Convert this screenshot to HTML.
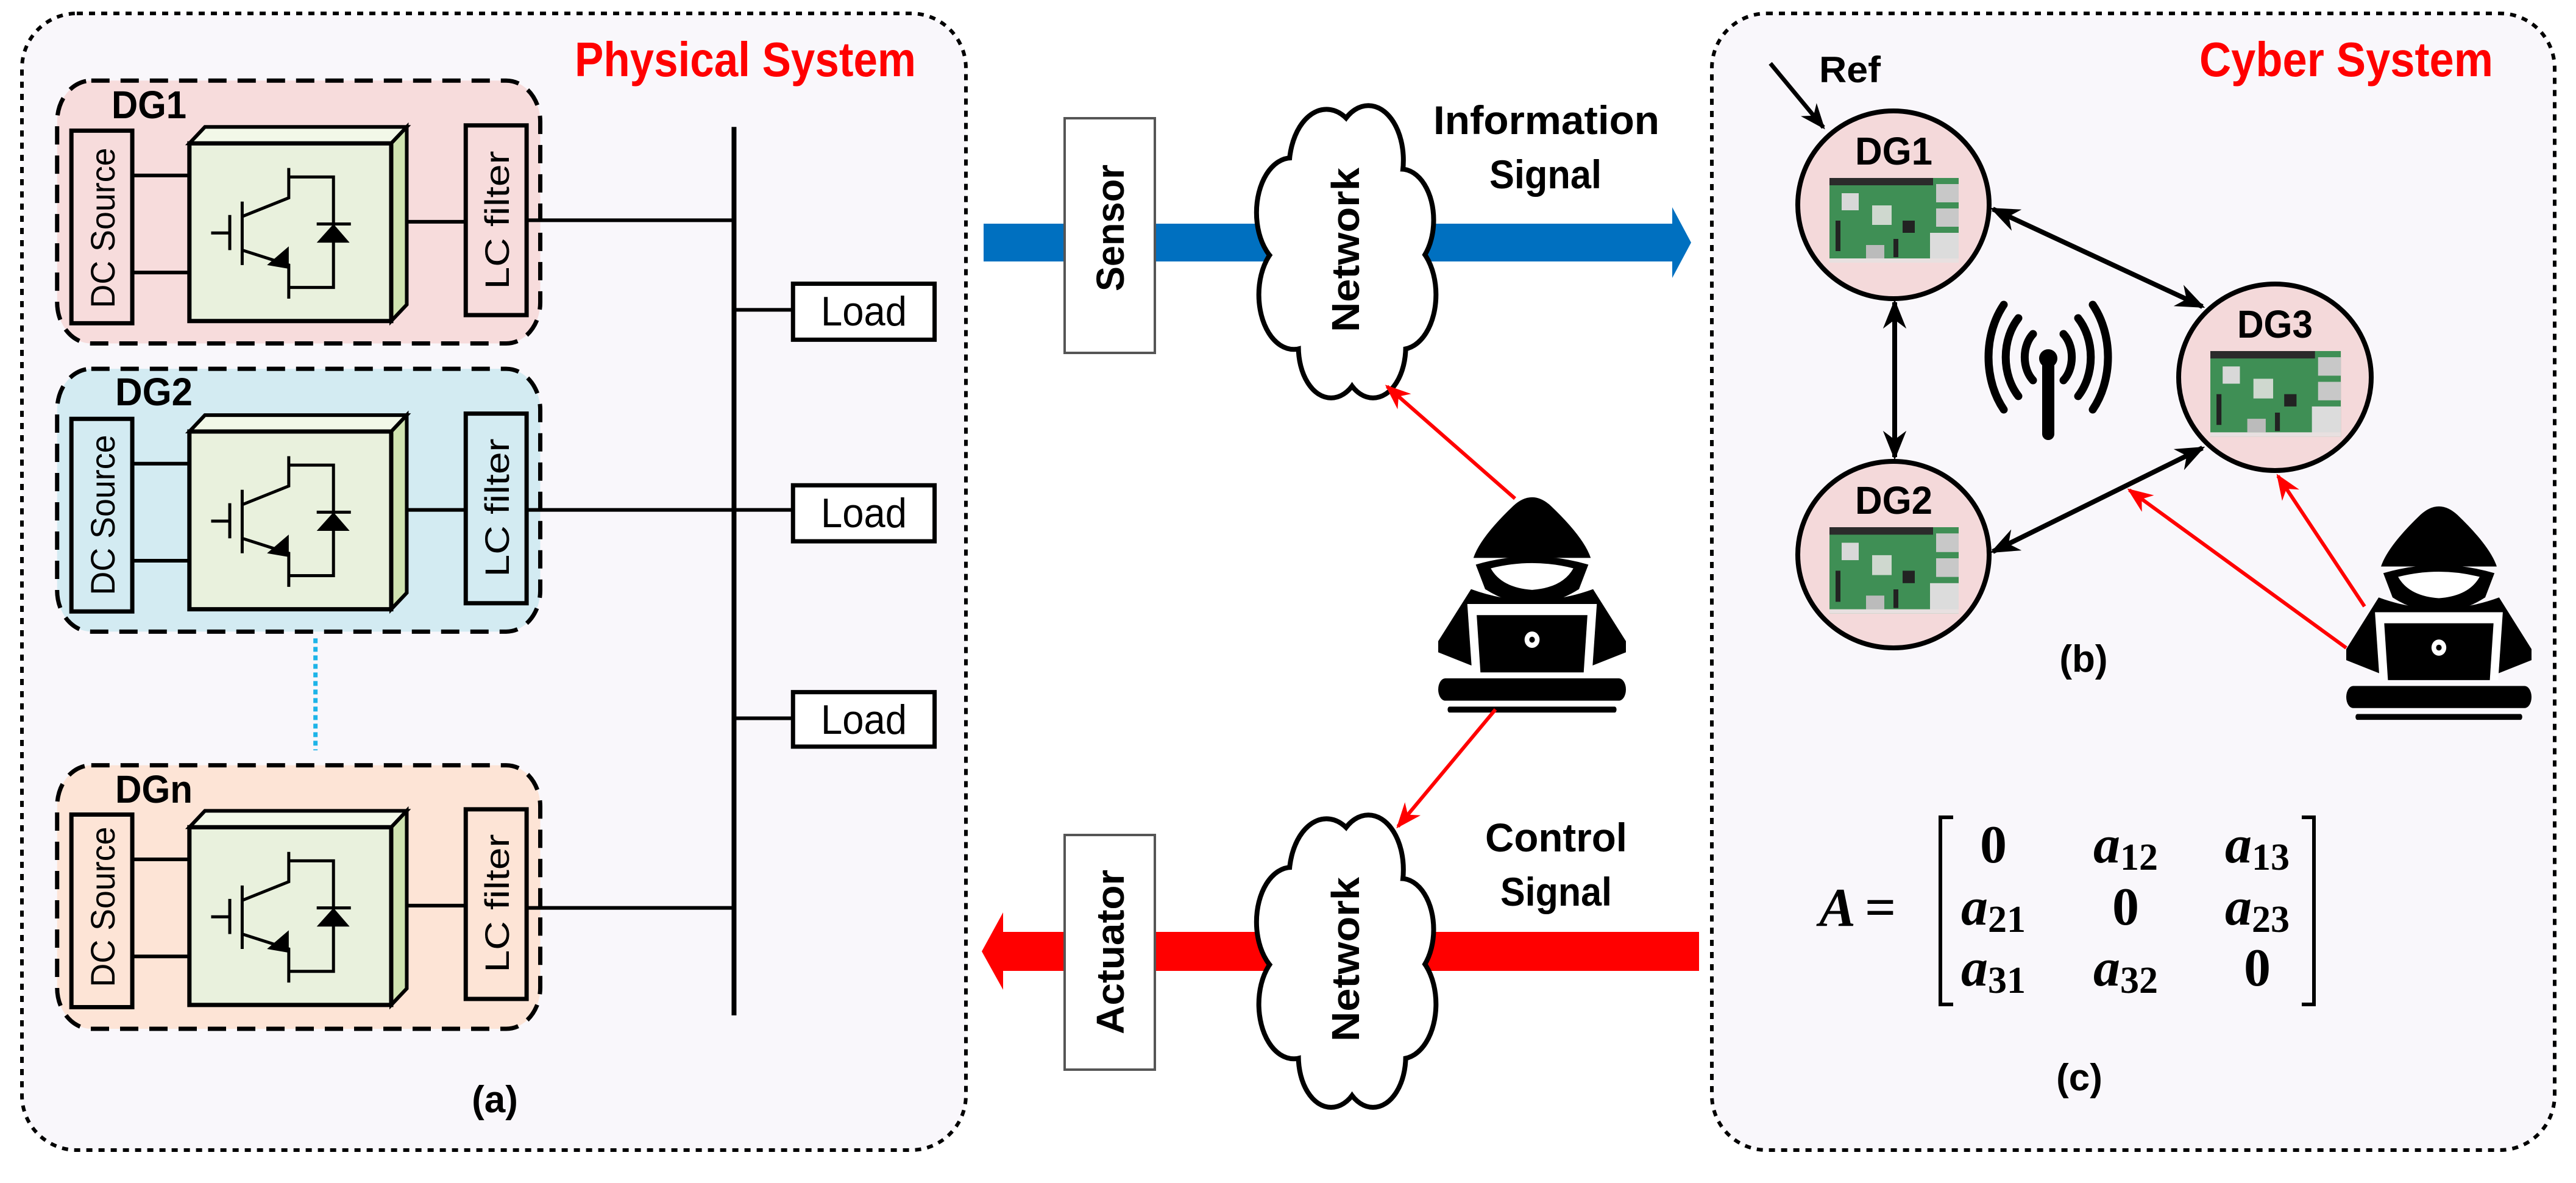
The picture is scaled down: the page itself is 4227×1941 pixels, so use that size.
<!DOCTYPE html>
<html><head><meta charset="utf-8"><style>
html,body{margin:0;padding:0;background:#fff;}
svg{display:block;}
text{font-family:"Liberation Sans",sans-serif;font-weight:bold;}
</style></head><body>
<svg width="4227" height="1941" viewBox="0 0 4227 1941" xmlns="http://www.w3.org/2000/svg">
<defs>
<marker id="ar" viewBox="0 0 10 10" refX="9" refY="5" markerWidth="7" markerHeight="7" orient="auto" markerUnits="strokeWidth"><path d="M0,1 L10,5 L0,9 L3,5 Z" fill="#f00"/></marker>
<marker id="ak" viewBox="0 0 10 10" refX="9" refY="5" markerWidth="6" markerHeight="6" orient="auto-start-reverse" markerUnits="strokeWidth"><path d="M0,1 L10,5 L0,9 L3,5 Z" fill="#000"/></marker>
<g id="unit">
 <rect x="115" y="175" width="98" height="258" fill="none" stroke="#000" stroke-width="7" vector-effect="non-scaling-stroke"/>
 <line x1="213" y1="235" x2="305" y2="235" stroke="#000" stroke-width="6" vector-effect="non-scaling-stroke"/>
 <line x1="213" y1="365" x2="305" y2="365" stroke="#000" stroke-width="6" vector-effect="non-scaling-stroke"/>
 <polygon points="305,192 330,170 655,170 630,192" fill="#f2f8e8" stroke="#000" stroke-width="6" vector-effect="non-scaling-stroke"/>
 <polygon points="630,192 655,170 655,408 630,430" fill="#cfe3b0" stroke="#000" stroke-width="6" vector-effect="non-scaling-stroke"/>
 <rect x="305" y="192" width="325" height="238" fill="#e9f1dd" stroke="#000" stroke-width="7" vector-effect="non-scaling-stroke"/>
 <path d="M340,312 H370 M370,288 V335 M390,270 V355 M390,290 L465,265 V225 M465,237 H537 V385 H465 M390,335 L465,355 V400 M510,300 H565" fill="none" stroke="#000" stroke-width="5" vector-effect="non-scaling-stroke"/>
 <polygon points="430,355 465,330 465,360" fill="#000"/>
 <polygon points="510,325 537,300 563,325" fill="#000"/>
 <line x1="655" y1="297" x2="750" y2="297" stroke="#000" stroke-width="6" vector-effect="non-scaling-stroke"/>
 <rect x="750" y="168" width="98" height="254" fill="none" stroke="#000" stroke-width="7" vector-effect="non-scaling-stroke"/>
</g>
<g id="cloud">
 <g fill="#000" stroke="#000" stroke-width="16" vector-effect="non-scaling-stroke">
  <ellipse cx="150" cy="90" rx="75" ry="75" vector-effect="non-scaling-stroke"/><ellipse cx="240" cy="80" rx="70" ry="70" vector-effect="non-scaling-stroke"/>
  <ellipse cx="310" cy="160" rx="65" ry="65" vector-effect="non-scaling-stroke"/><ellipse cx="310" cy="260" rx="70" ry="70" vector-effect="non-scaling-stroke"/>
  <ellipse cx="250" cy="330" rx="65" ry="65" vector-effect="non-scaling-stroke"/><ellipse cx="160" cy="330" rx="65" ry="65" vector-effect="non-scaling-stroke"/>
  <ellipse cx="80" cy="260" rx="70" ry="70" vector-effect="non-scaling-stroke"/><ellipse cx="75" cy="150" rx="70" ry="70" vector-effect="non-scaling-stroke"/>
 </g>
 <g fill="#fff">
  <circle cx="150" cy="90" r="75"/><circle cx="240" cy="80" r="70"/><circle cx="310" cy="160" r="65"/><circle cx="310" cy="260" r="70"/>
  <circle cx="250" cy="330" r="65"/><circle cx="160" cy="330" r="65"/><circle cx="80" cy="260" r="70"/><circle cx="75" cy="150" r="70"/>
  <circle cx="190" cy="210" r="140"/>
 </g>
</g>
<g id="hacker">
 <path d="M75,88 Q90,60 160,18 Q200,-5 240,18 Q310,60 325,88 Z" fill="#000"/>
 <path d="M80,97 Q200,75 320,97 L300,130 Q200,170 100,130 Z" fill="#000"/>
 <path d="M112,102 Q200,88 288,102 Q265,128 200,131 Q135,128 112,102 Z" fill="#fff"/>
 <path d="M0,200 L70,130 Q200,160 330,130 L400,200 L400,215 L300,240 L100,240 L0,215 Z" fill="#000"/>
 <path d="M62,150 L338,150 L328,242 L72,242 Z" fill="#fff"/>
 <path d="M82,165 L318,165 L310,242 L90,242 Z" fill="#000"/>
 <ellipse cx="200" cy="198" rx="16" ry="11" fill="#fff"/><ellipse cx="200" cy="198" rx="6" ry="4" fill="#000"/>
 <rect x="0" y="250" width="400" height="30" rx="15" fill="#000"/>
 <rect x="20" y="288" width="360" height="8" rx="4" fill="#000"/>
</g>
<g id="pi">
 <rect x="0" y="0" width="212" height="139" fill="#3f8f55"/>
 <rect x="0" y="0" width="170" height="12" fill="#2b2b2b"/>
 <rect x="175" y="10" width="37" height="30" fill="#c8c8c8"/>
 <rect x="175" y="50" width="37" height="30" fill="#c8c8c8"/>
 <rect x="165" y="90" width="47" height="45" fill="#dcdcdc"/>
 <rect x="20" y="25" width="28" height="28" fill="#d8d8d8"/>
 <rect x="70" y="45" width="32" height="32" fill="#cfd8cf"/>
 <rect x="120" y="70" width="20" height="20" fill="#222"/>
 <rect x="60" y="110" width="30" height="22" fill="#bbb"/>
 <rect x="10" y="70" width="8" height="50" fill="#222"/>
 <rect x="105" y="100" width="8" height="30" fill="#222"/>
 <rect x="0" y="132" width="212" height="7" fill="#e8e0e0"/>
</g>
</defs>

<rect x="36" y="22" width="1549" height="1865" rx="90" fill="#f9f7fb" stroke="#000" stroke-width="6" stroke-dasharray="10,10"/>
<rect x="2809" y="22" width="1383" height="1865" rx="90" fill="#f9f7fb" stroke="#000" stroke-width="6" stroke-dasharray="10,10"/>

<g transform="scale(1.019 1.225)">
 <rect x="92" y="108" width="778" height="352" rx="55" fill="#f7dcdc" stroke="#000" stroke-width="7" stroke-dasharray="30,18" vector-effect="non-scaling-stroke"/>
 <rect x="92" y="494" width="778" height="352" rx="55" fill="#d3ebf2" stroke="#000" stroke-width="7" stroke-dasharray="30,18" vector-effect="non-scaling-stroke"/>
 <rect x="92" y="1025" width="778" height="353" rx="55" fill="#fde4d6" stroke="#000" stroke-width="7" stroke-dasharray="30,18" vector-effect="non-scaling-stroke"/>
 <use href="#unit"/>
 <use href="#unit" transform="translate(0 386)"/>
 <use href="#unit" transform="translate(0 916)"/>
 <line x1="508" y1="855" x2="508" y2="1005" stroke="#1eb4e8" stroke-width="7" stroke-dasharray="8,6" vector-effect="non-scaling-stroke"/>
 <g stroke="#000" stroke-width="6" vector-effect="non-scaling-stroke">
  <line x1="1182" y1="170" x2="1182" y2="1360" stroke-width="8" vector-effect="non-scaling-stroke"/>
  <line x1="848" y1="295" x2="1182" y2="295" vector-effect="non-scaling-stroke"/>
  <line x1="848" y1="683" x2="1277" y2="683" vector-effect="non-scaling-stroke"/>
  <line x1="848" y1="1216" x2="1185" y2="1216" vector-effect="non-scaling-stroke"/>
  <line x1="1182" y1="415" x2="1277" y2="415" vector-effect="non-scaling-stroke"/>
  <line x1="1182" y1="962" x2="1277" y2="962" vector-effect="non-scaling-stroke"/>
 </g>
 <g fill="#fff" stroke="#000" stroke-width="7">
  <rect x="1277" y="380" width="228" height="75" vector-effect="non-scaling-stroke"/>
  <rect x="1277" y="650" width="228" height="75" vector-effect="non-scaling-stroke"/>
  <rect x="1277" y="927" width="228" height="73" vector-effect="non-scaling-stroke"/>
 </g>
</g>
<text x="943" y="125" font-size="80" fill="#f00" textLength="560" lengthAdjust="spacingAndGlyphs">Physical System</text>
<text x="183" y="194" font-size="64" textLength="123" lengthAdjust="spacingAndGlyphs">DG1</text>
<text x="189" y="665" font-size="64" textLength="127" lengthAdjust="spacingAndGlyphs">DG2</text>
<text x="189" y="1317" font-size="64" textLength="127" lengthAdjust="spacingAndGlyphs">DGn</text>
<g font-size="56">
 <text transform="translate(188 374) rotate(-90)" text-anchor="middle" textLength="263" lengthAdjust="spacingAndGlyphs" style="font-weight:normal">DC Source</text>
 <text transform="translate(188 845) rotate(-90)" text-anchor="middle" textLength="263" lengthAdjust="spacingAndGlyphs" style="font-weight:normal">DC Source</text>
 <text transform="translate(188 1488) rotate(-90)" text-anchor="middle" textLength="263" lengthAdjust="spacingAndGlyphs" style="font-weight:normal">DC Source</text>
 <text transform="translate(835 361) rotate(-90)" text-anchor="middle" textLength="227" lengthAdjust="spacingAndGlyphs" style="font-weight:normal">LC filter</text>
 <text transform="translate(835 833) rotate(-90)" text-anchor="middle" textLength="227" lengthAdjust="spacingAndGlyphs" style="font-weight:normal">LC filter</text>
 <text transform="translate(835 1482) rotate(-90)" text-anchor="middle" textLength="227" lengthAdjust="spacingAndGlyphs" style="font-weight:normal">LC filter</text>
</g>
<g font-size="68">
 <text x="1347" y="534" textLength="141" lengthAdjust="spacingAndGlyphs" style="font-weight:normal">Load</text>
 <text x="1347" y="865" textLength="141" lengthAdjust="spacingAndGlyphs" style="font-weight:normal">Load</text>
 <text x="1347" y="1204" textLength="141" lengthAdjust="spacingAndGlyphs" style="font-weight:normal">Load</text>
</g>
<text x="812" y="1825" font-size="62" text-anchor="middle">(a)</text>

<polygon points="1614,367 2744,367 2744,340 2775,398 2744,456 2744,429 1614,429" fill="#0070c0"/>
<polygon points="2788,1529 1646,1529 1646,1497 1611,1561 1646,1624 1646,1593 2788,1593" fill="#f00"/>
<rect x="1747" y="194" width="148" height="385" fill="#fff" stroke="#555" stroke-width="4"/>
<rect x="1747" y="1370" width="148" height="385" fill="#fff" stroke="#555" stroke-width="4"/>
<text transform="translate(1844 374) rotate(-90)" font-size="64" text-anchor="middle" textLength="208" lengthAdjust="spacingAndGlyphs">Sensor</text>
<text transform="translate(1844 1562) rotate(-90)" font-size="64" text-anchor="middle" textLength="270" lengthAdjust="spacingAndGlyphs">Actuator</text>
<use href="#cloud" transform="translate(2062 165) scale(0.764 1.225)"/>
<use href="#cloud" transform="translate(2062 1329) scale(0.764 1.225)"/>
<text transform="translate(2230 410) rotate(-90)" font-size="64" text-anchor="middle" textLength="270" lengthAdjust="spacingAndGlyphs">Network</text>
<text transform="translate(2230 1574) rotate(-90)" font-size="64" text-anchor="middle" textLength="270" lengthAdjust="spacingAndGlyphs">Network</text>
<text x="2352" y="220" font-size="66" textLength="371" lengthAdjust="spacingAndGlyphs">Information</text>
<text x="2444" y="309" font-size="66" textLength="184" lengthAdjust="spacingAndGlyphs">Signal</text>
<text x="2437" y="1397" font-size="66" textLength="233" lengthAdjust="spacingAndGlyphs">Control</text>
<text x="2462" y="1486" font-size="66" textLength="183" lengthAdjust="spacingAndGlyphs">Signal</text>
<use href="#hacker" transform="translate(2360 808) scale(0.77 1.22)"/>
<line x1="2486" y1="818" x2="2276" y2="634" stroke="#f00" stroke-width="6" marker-end="url(#ar)"/>
<line x1="2454" y1="1164" x2="2294" y2="1356" stroke="#f00" stroke-width="6" marker-end="url(#ar)"/>

<text x="3609" y="125" font-size="80" fill="#f00" textLength="482" lengthAdjust="spacingAndGlyphs">Cyber System</text>
<text x="2985" y="135" font-size="60" textLength="101" lengthAdjust="spacingAndGlyphs">Ref</text>
<line x1="2905" y1="104" x2="2992" y2="209" stroke="#000" stroke-width="7" marker-end="url(#ak)"/>
<g fill="#f4d9da" stroke="#000" stroke-width="8">
 <ellipse cx="3107" cy="336" rx="157" ry="154"/>
 <ellipse cx="3733" cy="619" rx="158" ry="153"/>
 <ellipse cx="3107" cy="910" rx="157" ry="153"/>
</g>
<text x="3044" y="270" font-size="64" textLength="127" lengthAdjust="spacingAndGlyphs">DG1</text>
<text x="3671" y="554" font-size="64" textLength="124" lengthAdjust="spacingAndGlyphs">DG3</text>
<text x="3044" y="843" font-size="64" textLength="127" lengthAdjust="spacingAndGlyphs">DG2</text>
<use href="#pi" transform="translate(3002 292)"/>
<use href="#pi" transform="translate(3627 576) scale(1.01 1.01)"/>
<use href="#pi" transform="translate(3002 865) scale(1 1.02)"/>
<g stroke="#000" stroke-width="8">
 <line x1="3270" y1="343" x2="3614" y2="503" marker-start="url(#ak)" marker-end="url(#ak)"/>
 <line x1="3109" y1="496" x2="3109" y2="750" marker-start="url(#ak)" marker-end="url(#ak)"/>
 <line x1="3614" y1="735" x2="3270" y2="905" marker-start="url(#ak)" marker-end="url(#ak)"/>
</g>
<g fill="none" stroke="#000" stroke-width="13" stroke-linecap="round">
 <path d="M3336,548 A35,48 0 0 0 3336,624"/><path d="M3386,548 A35,48 0 0 1 3386,624"/>
 <path d="M3312,522 A70,90 0 0 0 3312,650"/><path d="M3410,522 A70,90 0 0 1 3410,650"/>
 <path d="M3288,500 A100,130 0 0 0 3288,672"/><path d="M3434,500 A100,130 0 0 1 3434,672"/>
 <line x1="3361" y1="590" x2="3361" y2="712" stroke-width="20"/>
</g>
<circle cx="3361" cy="588" r="15" fill="#000"/>
<use href="#hacker" transform="translate(3850 823) scale(0.76 1.21)"/>
<line x1="3880" y1="995" x2="3738" y2="781" stroke="#f00" stroke-width="6" marker-end="url(#ar)"/>
<line x1="3850" y1="1063" x2="3494" y2="804" stroke="#f00" stroke-width="6" marker-end="url(#ar)"/>
<text x="3419" y="1102" font-size="62" text-anchor="middle">(b)</text>
<text x="2985" y="1519" font-size="90" font-style="italic" style="font-family:'Liberation Serif',serif">A</text>
<text x="3060" y="1519" font-size="90" style="font-family:'Liberation Serif',serif">=</text>
<path d="M3205,1341 H3184 V1648 H3205" fill="none" stroke="#000" stroke-width="6"/>
<path d="M3777,1341 H3797 V1648 H3777" fill="none" stroke="#000" stroke-width="6"/>
<g font-size="88" text-anchor="middle">
 <text x="3271" y="1415" style="font-family:'Liberation Serif',serif">0</text>
 <text x="3488" y="1415" style="font-family:'Liberation Serif',serif"><tspan font-style="italic">a</tspan><tspan font-size="62" dy="12">12</tspan></text>
 <text x="3704" y="1415" style="font-family:'Liberation Serif',serif"><tspan font-style="italic">a</tspan><tspan font-size="62" dy="12">13</tspan></text>
 <text x="3271" y="1517" style="font-family:'Liberation Serif',serif"><tspan font-style="italic">a</tspan><tspan font-size="62" dy="12">21</tspan></text>
 <text x="3488" y="1517" style="font-family:'Liberation Serif',serif">0</text>
 <text x="3704" y="1517" style="font-family:'Liberation Serif',serif"><tspan font-style="italic">a</tspan><tspan font-size="62" dy="12">23</tspan></text>
 <text x="3271" y="1617" style="font-family:'Liberation Serif',serif"><tspan font-style="italic">a</tspan><tspan font-size="62" dy="12">31</tspan></text>
 <text x="3488" y="1617" style="font-family:'Liberation Serif',serif"><tspan font-style="italic">a</tspan><tspan font-size="62" dy="12">32</tspan></text>
 <text x="3704" y="1617" style="font-family:'Liberation Serif',serif">0</text>
</g>
<text x="3412" y="1789" font-size="62" text-anchor="middle">(c)</text>
</svg>
</body></html>
